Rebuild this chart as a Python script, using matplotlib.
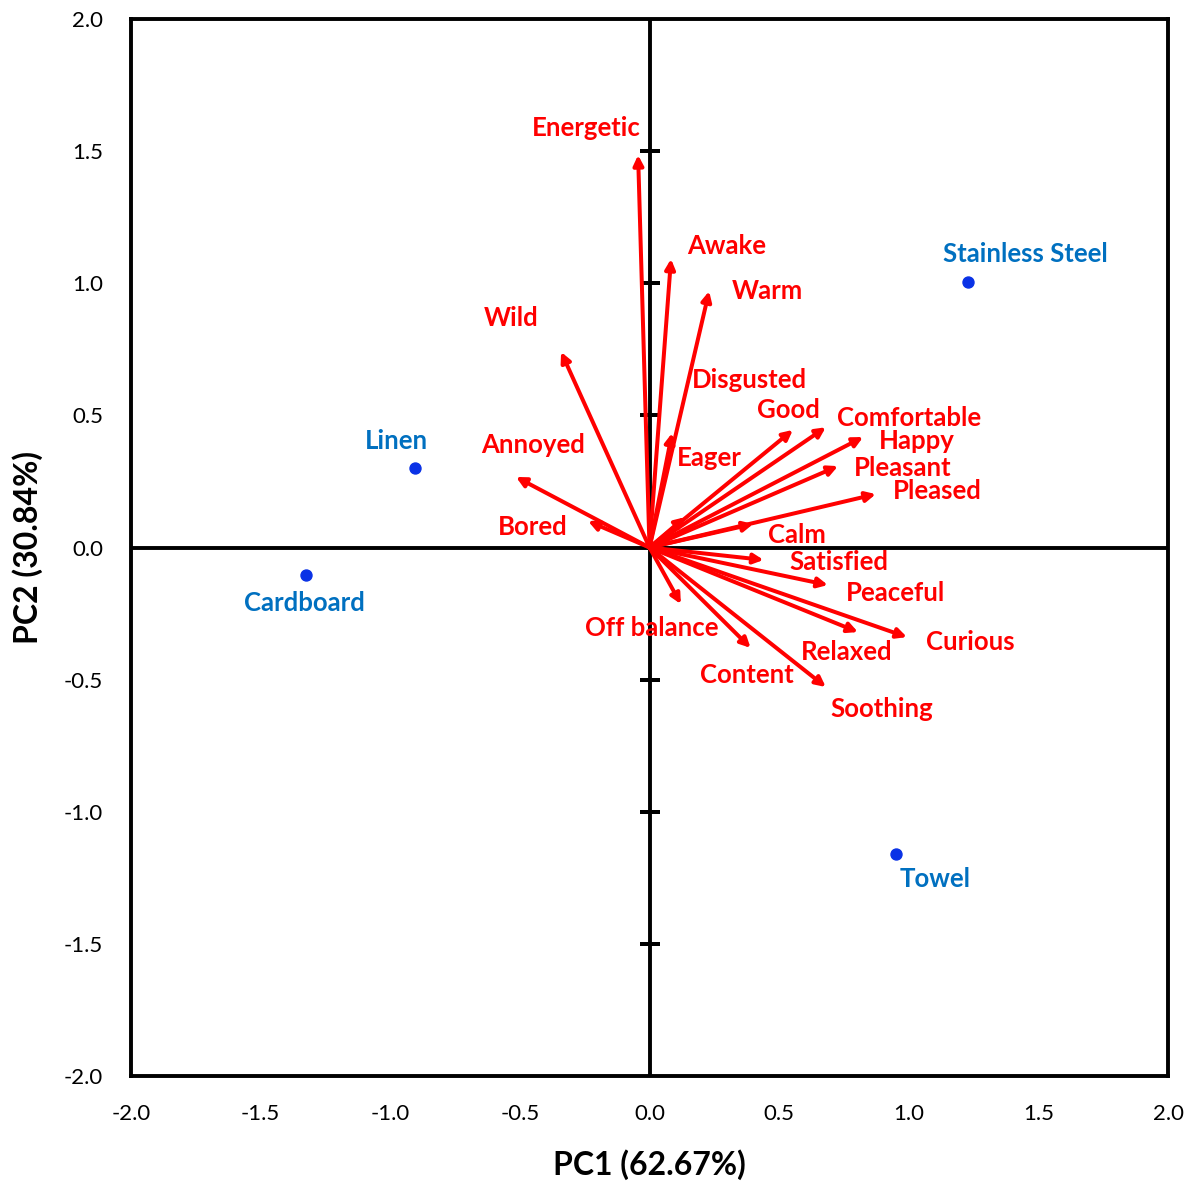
import matplotlib
matplotlib.use("Agg")
import matplotlib.pyplot as plt
from matplotlib.patches import FancyArrowPatch

plt.rcParams['font.family'] = ['Lato', 'DejaVu Sans']

# Loadings of the emotion attributes on PC1 / PC2
attributes = ["Energetic", "Awake", "Warm", "Wild", "Disgusted", "Good", "Comfortable",
              "Happy", "Pleasant", "Pleased", "Calm", "Eager", "Annoyed", "Bored",
              "Satisfied", "Peaceful", "Curious", "Relaxed", "Content", "Soothing",
              "Off balance"]
attr_pc1 = [-0.044, 0.083, 0.230, -0.341, 0.137, 0.553, 0.680, 0.824, 0.727, 0.873,
            0.400, 0.087, -0.515, -0.237, 0.440, 0.688, 0.993, 0.804, 0.390, 0.680,
            0.121]
attr_pc2 = [1.485, 1.092, 0.970, 0.740, 0.115, 0.445, 0.455, 0.418, 0.308, 0.202,
            0.089, 0.433, 0.267, 0.100, -0.047, -0.142, -0.339, -0.320, -0.380, -0.528,
            -0.214]
# label offsets (pixels, label centre relative to arrow tip)
attr_dx = [-52, 56, 58, -50, 64, -4, 83, 54, 65, 61, 44, 37, 17, -55, 75, 68, 63, -11, -4, 56, -29]
attr_dy = [27, 13, 0, 34, 137, 20, 9, -4, -2, 3, -11, -25, 32, -6, -2, -8, -5, -20, -27, -22, -24]

# Scores of the samples
samples = ["Stainless Steel", "Linen", "Cardboard", "Towel"]
samp_pc1 = [1.229, -0.905, -1.325, 0.951]
samp_pc2 = [1.005, 0.300, -0.104, -1.160]
samp_dx = [57, -18, -2, 39]
samp_dy = [28, 27, -28, -25]

ticks = [-2.0, -1.5, -1.0, -0.5, 0.0, 0.5, 1.0, 1.5, 2.0]
xlabel = "PC1 (62.67%)"
ylabel = "PC2 (30.84%)"

RED = "#FF0000"
BLUE_TXT = "#0070C0"
BLUE_PT = "#0A32E6"
PX = 0.72  # pixels -> points at 100 dpi

fig = plt.figure(figsize=(11.96, 11.88), dpi=100)
ax = fig.add_axes([131 / 1196, 1 - 1076 / 1188, 1037 / 1196, 1057 / 1188])
ax.set_xlim(-2, 2)
ax.set_ylim(-2, 2)

for s in ax.spines.values():
    s.set_linewidth(2.8)
    s.set_color("black")

ax.set_xticks(ticks)
ax.set_yticks(ticks)
ax.set_xticklabels([f"{t:.1f}" for t in ticks])
ax.set_yticklabels([f"{t:.1f}" for t in ticks])
ax.tick_params(length=0, labelsize=16, pad=20)

# crossing axes through the origin
ax.axhline(0, color="black", lw=2.8, zorder=1)
ax.axvline(0, color="black", lw=2.8, zorder=1)
inner = [t for t in ticks if t not in (-2.0, 0.0, 2.0)]
ax.plot([0] * len(inner), inner, ls="none", marker="_", markersize=20 * PX,
        markeredgewidth=4 * PX, color="black", zorder=1)

# attribute vectors
for name, x, y, dx, dy in zip(attributes, attr_pc1, attr_pc2, attr_dx, attr_dy):
    arr = FancyArrowPatch((0, 0), (x, y),
                          arrowstyle="-|>,head_length=0.9,head_width=0.45",
                          mutation_scale=6.5, lw=4 * PX, color=RED,
                          joinstyle="round", capstyle="round",
                          shrinkA=0, shrinkB=0, zorder=3)
    ax.add_patch(arr)
    ax.annotate(name, (x, y), xytext=(dx * PX, dy * PX), textcoords="offset points",
                ha="center", va="center", color=RED, fontsize=18.5,
                fontweight="bold", zorder=4)

# sample scores
ax.plot(samp_pc1, samp_pc2, ls="none", marker="o", markersize=11 * PX,
        color=BLUE_PT, zorder=5)
for name, x, y, dx, dy in zip(samples, samp_pc1, samp_pc2, samp_dx, samp_dy):
    ax.annotate(name, (x, y), xytext=(dx * PX, dy * PX), textcoords="offset points",
                ha="center", va="center", color=BLUE_TXT, fontsize=18.5,
                fontweight="bold", zorder=5)

ax.set_xlabel(xlabel, fontsize=23, fontweight="bold", labelpad=18)
ax.set_ylabel(ylabel, fontsize=23, fontweight="bold", labelpad=15)

fig.savefig("out.png", dpi=100)
